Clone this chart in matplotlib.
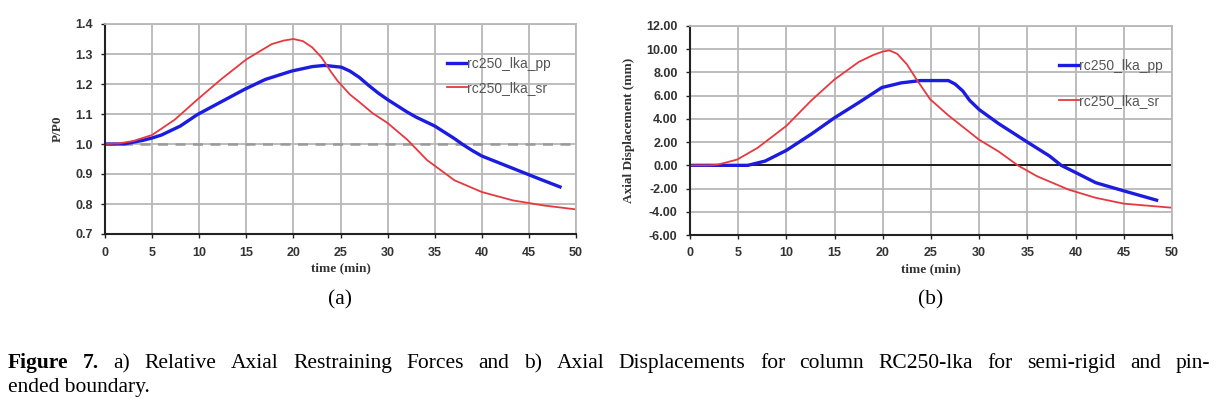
import matplotlib.pyplot as plt
import numpy as np
from matplotlib.ticker import FormatStrFormatter

# (a) relative axial restraining force P/P0
t_pp_a = [0, 2, 4, 5, 6, 8, 9.8, 12, 14.8, 17, 19.8, 22, 23.3, 25.1, 26, 27, 28, 29, 30, 31, 32, 33, 34, 35,
          36, 37, 38, 39, 40, 42, 44, 46, 48.3]
pp_a = [1.0, 1.0, 1.012, 1.02, 1.03, 1.06, 1.098, 1.135, 1.182, 1.215, 1.243, 1.258, 1.262, 1.256, 1.243, 1.222,
        1.195, 1.17, 1.148, 1.128, 1.108, 1.09, 1.075, 1.06, 1.04, 1.02, 0.998, 0.978, 0.96, 0.935, 0.91, 0.885, 0.857]
t_sr_a = [0, 1.5, 3, 5, 7.4, 9.8, 12.3, 15, 17.7, 19, 20, 21, 22, 23, 24, 24.7, 26, 26.8, 28.4, 30, 32.1, 34.2,
          37.1, 40, 43.3, 46.6, 50]
sr_a = [1.0, 1.002, 1.01, 1.03, 1.081, 1.148, 1.215, 1.282, 1.333, 1.345, 1.35, 1.343, 1.322, 1.288, 1.24, 1.21,
        1.165, 1.145, 1.103, 1.07, 1.014, 0.946, 0.879, 0.84, 0.812, 0.795, 0.782]

# (b) axial displacement (mm)
t_pp_b = [0, 3, 6, 7.8, 10, 12.6, 15, 17.5, 19.9, 21.9, 23.9, 26.8, 27.5, 28.3, 29, 30, 32, 35, 37.3, 38.5,
          40.1, 42.1, 45, 48.4]
pp_b = [0.0, 0.0, 0.0, 0.37, 1.29, 2.7, 4.1, 5.4, 6.7, 7.1, 7.3, 7.3, 7.0, 6.4, 5.6, 4.8, 3.6, 2.0, 0.8, 0.0,
        -0.66, -1.5, -2.2, -3.0]
t_sr_b = [0, 2, 2.9, 4.9, 7, 10, 12.6, 15, 17.5, 19, 20, 20.7, 21.5, 22.5, 23.5, 24.9, 26.8, 30, 32, 34, 36,
          39.3, 42.1, 45, 50]
sr_b = [0.0, 0.0, 0.06, 0.5, 1.5, 3.4, 5.6, 7.4, 8.9, 9.5, 9.8, 9.9, 9.6, 8.7, 7.4, 5.7, 4.3, 2.2, 1.2, 0.0,
        -0.94, -2.1, -2.8, -3.3, -3.65]

labels = ['rc250_lka_pp', 'rc250_lka_sr']
blue = '#1c1ce0'
red = '#e8383f'
grid_c = '#b8b8b8'

caption_1 = ('Figure 7. a) Relative Axial Restraining Forces and b) Axial Displacements for column RC250-lka '
             'for semi-rigid and pin-')
caption_2 = 'ended boundary.'

fig = plt.figure(figsize=(12.2, 4.12), dpi=100)
axa = fig.add_axes([105/1220, 1-234/412, 471/1220, 210/412])
axb = fig.add_axes([690/1220, 1-235/412, 482/1220, 209/412])

tick_font = dict(family='Liberation Sans', weight='bold', size=9)
lab_font = dict(family='Liberation Serif', weight='bold', size=9.5)
leg_prop = dict(family='Liberation Sans', size=10)

def style(ax):
    ax.set_xlim(0, 50)
    ax.set_xticks(np.arange(0, 51, 5))
    ax.grid(True, color=grid_c, lw=1.3)
    ax.set_axisbelow(True)
    for s in ['top', 'right']:
        ax.spines[s].set_color(grid_c)
        ax.spines[s].set_linewidth(1.3)
    for s in ['left', 'bottom']:
        ax.spines[s].set_color('#222222')
        ax.spines[s].set_linewidth(1.5)
    ax.tick_params(direction='out', length=3, width=1, colors='#222222', pad=6)
    for lb in ax.get_xticklabels() + ax.get_yticklabels():
        lb.set_fontproperties(tick_font)
        lb.set_color('#333333')
    ax.set_xlabel('time (min)', color='#333333', labelpad=3, **lab_font)

# (a)
axa.set_ylim(0.7, 1.4)
axa.set_yticks(np.arange(0.7, 1.41, 0.1))
axa.yaxis.set_major_formatter(FormatStrFormatter('%.1f'))
axa.axhline(1.0, color='#9a9a9a', lw=1.8, ls=(0, (4, 3)), zorder=1.5)
axa.plot(t_pp_a, pp_a, color=blue, lw=2.4, label=labels[0])
axa.plot(t_sr_a, sr_a, color=red, lw=1.3, label=labels[1])
style(axa)
axa.set_ylabel('P/P0', color='#333333', labelpad=8, **lab_font)
axa.legend(loc='upper left', bbox_to_anchor=(0.712, 0.878), frameon=False,
           handlelength=1.4, handletextpad=0.0, labelspacing=0.75, borderpad=0,
           prop=leg_prop, labelcolor='#555555')

# (b)
axb.set_ylim(-6, 12)
axb.set_yticks(np.arange(-6, 12.1, 2))
axb.yaxis.set_major_formatter(FormatStrFormatter('%.2f'))
axb.axhline(0.0, color='#111111', lw=1.3, zorder=1.5)
axb.plot(t_pp_b, pp_b, color=blue, lw=2.4, label=labels[0])
axb.plot(t_sr_b, sr_b, color=red, lw=1.3, label=labels[1])
style(axb)
axb.set_ylabel('Axial Displacement (mm)', color='#333333', labelpad=8, **lab_font)
axb.legend(loc='upper left', bbox_to_anchor=(0.752, 0.875), frameon=False,
           handlelength=1.4, handletextpad=0.0, labelspacing=1.5, borderpad=0,
           prop=leg_prop, labelcolor='#555555')

cap_font = dict(family='Liberation Serif', size=15.5)
fig.text(340/1220, 1-300/412, '(a)', ha='center', va='center', **cap_font)
fig.text(931/1220, 1-300/412, '(b)', ha='center', va='center', **cap_font)

# first caption line justified between x=8 and x=1210 px
renderer = fig.canvas.get_renderer()
words = caption_1.split(' ')
items = []
for i, w in enumerate(words):
    txt = fig.text(0, 1-368/412, w, ha='left', va='baseline',
                   weight='bold' if i < 2 else 'normal', **cap_font)
    items.append((txt, txt.get_window_extent(renderer).width))
gap = (1210 - 8 - sum(wd for _, wd in items)) / (len(items) - 1)
x = 8
for txt, wd in items:
    txt.set_x(x/1220)
    x += wd + gap
fig.text(8/1220, 1-392/412, caption_2, ha='left', va='baseline', **cap_font)

fig.savefig('out.png', dpi=100)
